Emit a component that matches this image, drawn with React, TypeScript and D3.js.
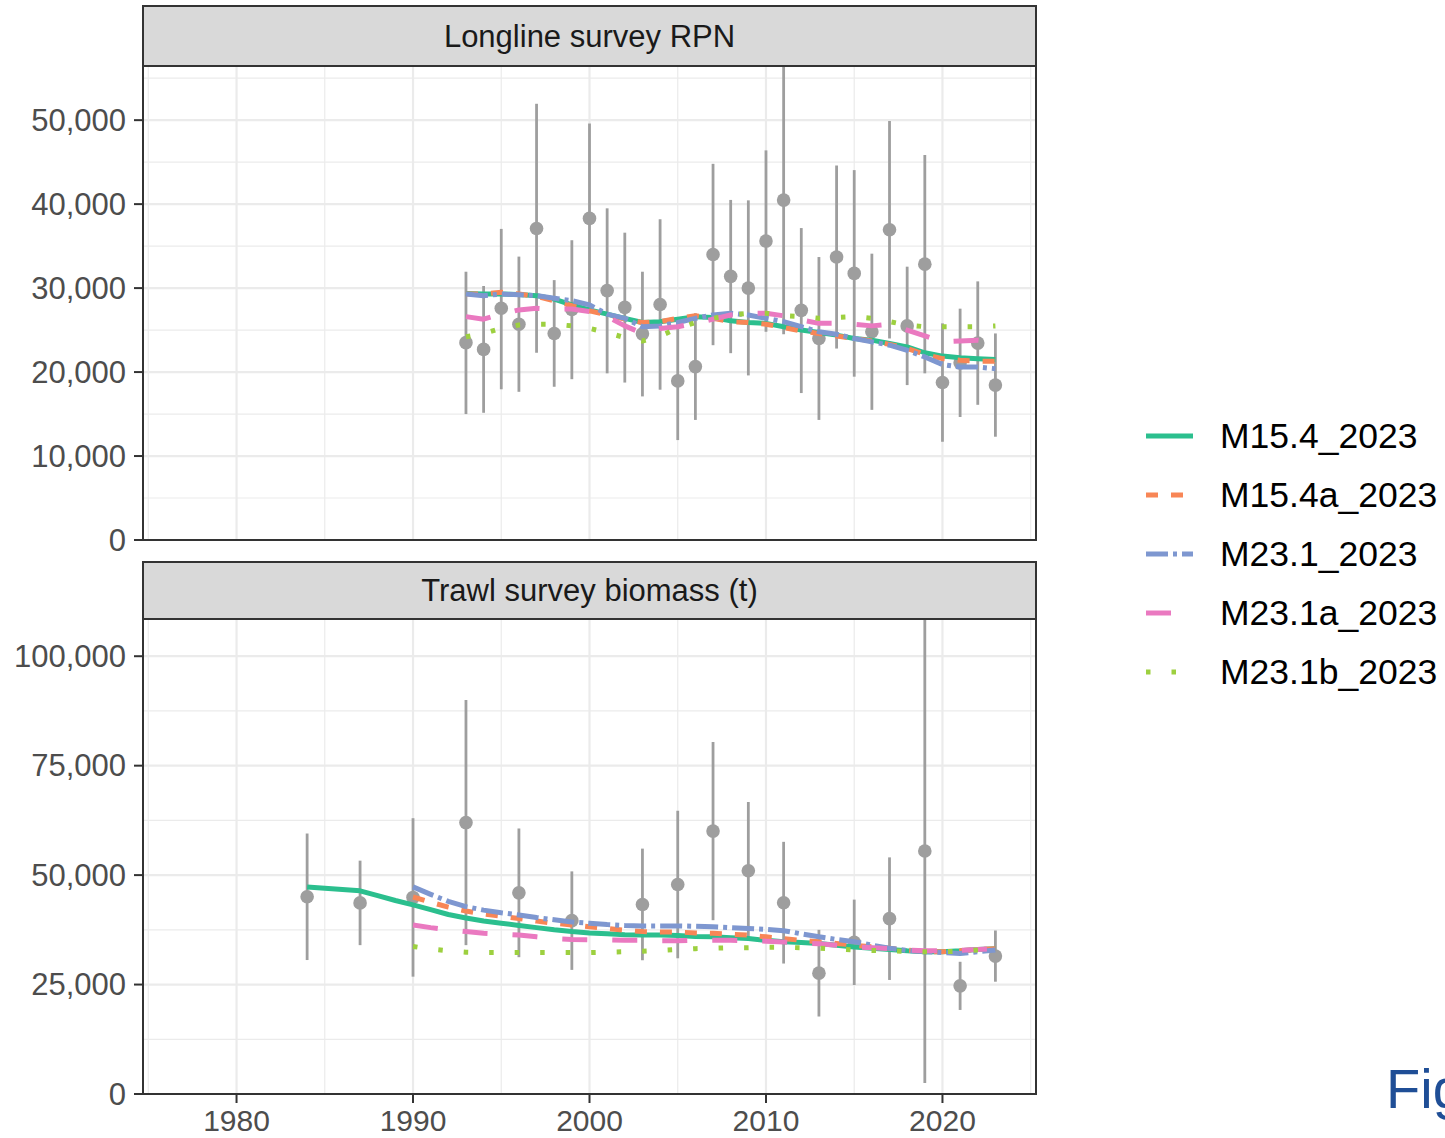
import React from 'react';
import * as d3 from 'd3';

const W = 1445;
const H = 1138;
const FONT = "'Liberation Sans', Arial, Helvetica, sans-serif";

// ---------- Data ----------
const modelNames = ['M15.4_2023', 'M15.4a_2023', 'M23.1_2023', 'M23.1a_2023', 'M23.1b_2023'];

// Longline survey RPN observations
const llYears = [1993, 1994, 1995, 1996, 1997, 1998, 1999, 2000, 2001, 2002, 2003, 2004, 2005, 2006, 2007, 2008, 2009, 2010, 2011, 2012, 2013, 2014, 2015, 2016, 2017, 2018, 2019, 2020, 2021, 2022, 2023];
const llObs = [23500, 22700, 27600, 25700, 37100, 24600, 27450, 38300, 29700, 27700, 24550, 28050, 18950, 20650, 34000, 31400, 30000, 35600, 40480, 27350, 24000, 33700, 31750, 24800, 36950, 25500, 32850, 18750, 21100, 23450, 18450];
const llLo = [15000, 15150, 17950, 17650, 22300, 18250, 19150, 27000, 19850, 18750, 17100, 17900, 11900, 14300, 23200, 22250, 19600, 24800, 24500, 17500, 14300, 22800, 19450, 15500, 24000, 18450, 19850, 11700, 14650, 16100, 12300];
const llHi = [31950, 30250, 37050, 33750, 51950, 30950, 35700, 49600, 39500, 36600, 31950, 38200, 26000, 27000, 44800, 40500, 40450, 46400, 56450, 37150, 33700, 44600, 44050, 34100, 49900, 32550, 45850, 25800, 27550, 30800, 24600];

// Longline model fits (1993-2023)
const llFitM154 = [29350, 29300, 29300, 29250, 29100, 28700, 28000, 27400, 26900, 26400, 25900, 26000, 26300, 26600, 26500, 26100, 25900, 25800, 25400, 25000, 24700, 24400, 24000, 23800, 23400, 23000, 22300, 21900, 21700, 21600, 21500];
const llFitM154a = [29300, 29300, 29500, 29300, 29000, 28500, 27900, 27300, 26800, 26300, 25900, 26000, 26400, 26700, 26400, 26000, 25900, 25700, 25300, 24900, 24600, 24300, 24000, 23700, 23300, 22800, 22100, 21600, 21400, 21300, 21300];
const llFitM231 = [29300, 29100, 29300, 29200, 29100, 28800, 28500, 28000, 26900, 26400, 25400, 25500, 25900, 26400, 26800, 27000, 26800, 26400, 26000, 25400, 24800, 24500, 24000, 23600, 23200, 22600, 21800, 20900, 20600, 20600, 20400];
const llFitM231a = [26600, 26300, 26900, 27400, 27600, 27500, 27500, 27200, 26600, 25500, 24600, 25200, 25400, 25800, 26300, 26800, 27000, 27000, 26700, 26200, 25800, 25800, 25700, 25500, 25700, 25000, 24300, 23600, 23700, 23800, 23600];
const llFitM231b = [24200, 24600, 25200, 25600, 25700, 25700, 25500, 25200, 24700, 24100, 23700, 24300, 25200, 25900, 26400, 26800, 27000, 27000, 26700, 26600, 26400, 26500, 26600, 26400, 26000, 25600, 25400, 25400, 25400, 25400, 25500];

// Trawl survey biomass observations
const twYears = [1984, 1987, 1990, 1993, 1996, 1999, 2003, 2005, 2007, 2009, 2011, 2013, 2015, 2017, 2019, 2021, 2023];
const twObs = [45050, 43650, 44900, 62000, 45950, 39600, 43300, 47850, 60050, 51000, 43700, 27600, 34650, 40050, 55500, 24700, 31500];
const twLo = [30600, 34000, 26800, 34000, 31250, 28350, 30550, 31000, 39700, 35300, 29800, 17700, 24900, 26050, 2500, 19200, 25650];
const twHi = [59500, 53300, 63000, 90000, 60650, 50850, 56050, 64700, 80400, 66700, 57600, 37500, 44400, 54050, 108500, 30200, 37350];

// Trawl model fits
const twFitYearsLong = [1984, 1985, 1986, 1987, 1988, 1989, 1990, 1991, 1992, 1993, 1994, 1995, 1996, 1997, 1998, 1999, 2000, 2001, 2002, 2003, 2004, 2005, 2006, 2007, 2008, 2009, 2010, 2011, 2012, 2013, 2014, 2015, 2016, 2017, 2018, 2019, 2020, 2021, 2022, 2023];
const twFitYearsShort = [1990, 1991, 1992, 1993, 1994, 1995, 1996, 1997, 1998, 1999, 2000, 2001, 2002, 2003, 2004, 2005, 2006, 2007, 2008, 2009, 2010, 2011, 2012, 2013, 2014, 2015, 2016, 2017, 2018, 2019, 2020, 2021, 2022, 2023];
const twFitM154 = [47300, 47000, 46700, 46400, 45300, 44200, 43200, 42100, 41000, 40200, 39500, 39000, 38500, 38000, 37500, 37100, 36800, 36600, 36400, 36300, 36300, 36200, 36000, 35900, 35700, 35500, 35100, 34800, 34600, 34400, 34000, 33600, 33300, 33000, 32700, 32500, 32500, 32700, 33000, 33200];
const twFitM154a = [45000, 43800, 42700, 41800, 41100, 40600, 40100, 39500, 39000, 38600, 38200, 37800, 37400, 37100, 37000, 37000, 36800, 36700, 36500, 36300, 35900, 35500, 35100, 34800, 34400, 34000, 33600, 33300, 32900, 32500, 32500, 32700, 33000, 33200];
const twFitM231 = [47300, 45600, 44000, 42800, 42000, 41400, 40900, 40300, 39800, 39300, 39000, 38700, 38500, 38400, 38400, 38400, 38300, 38200, 38000, 37800, 37600, 37300, 36600, 35900, 35300, 34800, 34000, 33300, 32800, 32500, 32300, 32100, 32500, 32900];
const twFitM231a = [38600, 38000, 37500, 37100, 36700, 36500, 36300, 35900, 35500, 35300, 35200, 35200, 35100, 35100, 35000, 35000, 35100, 35100, 35100, 35000, 34900, 34700, 34500, 34300, 34000, 33600, 33400, 33200, 32900, 32700, 32700, 32800, 33000, 33200];
const twFitM231b = [33700, 33100, 32700, 32400, 32300, 32300, 32300, 32300, 32300, 32300, 32300, 32400, 32500, 32600, 32800, 33000, 33200, 33300, 33400, 33400, 33500, 33500, 33400, 33300, 33100, 32900, 32800, 32700, 32600, 32500, 32500, 32600, 32900, 33100];

// Axis ticks
const xTicks = [1980, 1990, 2000, 2010, 2020];
const xMinor = [1975, 1985, 1995, 2005, 2015, 2025];
const llYTicks = [0, 10000, 20000, 30000, 40000, 50000];
const llYMinor = [5000, 15000, 25000, 35000, 45000, 55000];
const twYTicks = [0, 25000, 50000, 75000, 100000];
const twYMinor = [12500, 37500, 62500, 87500];

// ---------- Styles ----------
const modelColors = ['#2BBF8E', '#F88656', '#7E97D0', '#EA79C0', '#9DD03F'];
const modelDashes = ['none', '12,13', '22,5,4,5', '25,25', '4.5,21'];
const LINE_W = 5;
const OBS_COLOR = '#9E9E9E';
const AXIS_FS = 31;

const PANEL_L = 143;
const PANEL_R = 1036;

type Fit = { years: number[]; values: number[] };
type PanelDef = {
  title: string;
  stripTop: number;
  top: number;
  bottom: number;
  years: number[];
  obs: number[];
  lo: number[];
  hi: number[];
  fits: Fit[];
  yTicks: number[];
  yMinor: number[];
  showX: boolean;
};

const panels: PanelDef[] = [
  {
    title: 'Longline survey RPN',
    stripTop: 6,
    top: 66,
    bottom: 540,
    years: llYears,
    obs: llObs,
    lo: llLo,
    hi: llHi,
    fits: [llFitM154, llFitM154a, llFitM231, llFitM231a, llFitM231b].map((v) => ({ years: llYears, values: v })),
    yTicks: llYTicks,
    yMinor: llYMinor,
    showX: false,
  },
  {
    title: 'Trawl survey biomass (t)',
    stripTop: 562,
    top: 619,
    bottom: 1094,
    years: twYears,
    obs: twObs,
    lo: twLo,
    hi: twHi,
    fits: [
      { years: twFitYearsLong, values: twFitM154 },
      { years: twFitYearsShort, values: twFitM154a },
      { years: twFitYearsShort, values: twFitM231 },
      { years: twFitYearsShort, values: twFitM231a },
      { years: twFitYearsShort, values: twFitM231b },
    ],
    yTicks: twYTicks,
    yMinor: twYMinor,
    showX: true,
  },
];

const x = d3.scaleLinear().domain([1974.7, 2025.3]).range([PANEL_L, PANEL_R]);
const fmt = d3.format(',');

function Panel({ p }: { p: PanelDef }) {
  const y = d3.scaleLinear().domain([0, d3.max(p.hi) as number]).range([p.bottom, p.top]);
  const line = d3
    .line<[number, number]>()
    .x((d) => x(d[0]))
    .y((d) => y(d[1]));
  const clipId = 'clip-' + p.stripTop;
  return (
    <g>
      <defs>
        <clipPath id={clipId}>
          <rect x={PANEL_L} y={p.top} width={PANEL_R - PANEL_L} height={p.bottom - p.top} />
        </clipPath>
      </defs>
      <rect x={PANEL_L} y={p.top} width={PANEL_R - PANEL_L} height={p.bottom - p.top} fill="#fff" />
      {p.yMinor.map((t) => (
        <line key={'ym' + t} x1={PANEL_L} x2={PANEL_R} y1={y(t)} y2={y(t)} stroke="#EBEBEB" strokeWidth={1.2} />
      ))}
      {xMinor.map((t) => (
        <line key={'xm' + t} x1={x(t)} x2={x(t)} y1={p.top} y2={p.bottom} stroke="#EBEBEB" strokeWidth={1.2} />
      ))}
      {p.yTicks.map((t) => (
        <line key={'yM' + t} x1={PANEL_L} x2={PANEL_R} y1={y(t)} y2={y(t)} stroke="#EBEBEB" strokeWidth={2.2} />
      ))}
      {xTicks.map((t) => (
        <line key={'xM' + t} x1={x(t)} x2={x(t)} y1={p.top} y2={p.bottom} stroke="#EBEBEB" strokeWidth={2.2} />
      ))}
      <g clipPath={`url(#${clipId})`}>
        {p.years.map((yr, i) => (
          <line key={'eb' + yr} x1={x(yr)} x2={x(yr)} y1={y(p.lo[i])} y2={y(p.hi[i])} stroke={OBS_COLOR} strokeWidth={2.8} />
        ))}
        {p.years.map((yr, i) => (
          <circle key={'pt' + yr} cx={x(yr)} cy={y(p.obs[i])} r={6.8} fill={OBS_COLOR} />
        ))}
        {p.fits.map((f, k) => (
          <path
            key={'fit' + k}
            d={line(f.years.map((yr, i) => [yr, f.values[i]] as [number, number])) || ''}
            fill="none"
            stroke={modelColors[k]}
            strokeWidth={LINE_W}
            strokeDasharray={modelDashes[k]}
            strokeLinejoin="round"
          />
        ))}
      </g>
      <rect x={PANEL_L} y={p.top} width={PANEL_R - PANEL_L} height={p.bottom - p.top} fill="none" stroke="#333333" strokeWidth={2} />
      <rect x={PANEL_L} y={p.stripTop} width={PANEL_R - PANEL_L} height={p.top - p.stripTop} fill="#D9D9D9" stroke="#333333" strokeWidth={2} />
      <text
        x={(PANEL_L + PANEL_R) / 2}
        y={(p.stripTop + p.top) / 2}
        textAnchor="middle"
        dominantBaseline="central"
        fontFamily={FONT}
        fontSize={AXIS_FS}
        fill="#1A1A1A"
      >
        {p.title}
      </text>
      {p.yTicks.map((t) => (
        <g key={'yt' + t}>
          <line x1={PANEL_L - 9} x2={PANEL_L} y1={y(t)} y2={y(t)} stroke="#333333" strokeWidth={2} />
          <text
            x={PANEL_L - 17}
            y={y(t)}
            textAnchor="end"
            dominantBaseline="central"
            fontFamily={FONT}
            fontSize={AXIS_FS}
            fill="#4D4D4D"
          >
            {fmt(t)}
          </text>
        </g>
      ))}
      {p.showX &&
        xTicks.map((t) => (
          <g key={'xt' + t}>
            <line x1={x(t)} x2={x(t)} y1={p.bottom} y2={p.bottom + 9} stroke="#333333" strokeWidth={2} />
            <text
              x={x(t)}
              y={p.bottom + 26}
              textAnchor="middle"
              dominantBaseline="central"
              fontFamily={FONT}
              fontSize={30}
              fill="#4D4D4D"
            >
              {t}
            </text>
          </g>
        ))}
    </g>
  );
}

function Legend() {
  const x0 = 1146;
  const x1 = 1193;
  const yStart = 436;
  const step = 59;
  return (
    <g>
      {modelNames.map((name, i) => (
        <g key={name}>
          <line
            x1={x0}
            x2={x1}
            y1={yStart + i * step}
            y2={yStart + i * step}
            stroke={modelColors[i]}
            strokeWidth={LINE_W}
            strokeDasharray={modelDashes[i]}
          />
          <text
            x={1220}
            y={yStart + i * step}
            dominantBaseline="central"
            fontFamily={FONT}
            fontSize={35.5}
            fill="#000"
          >
            {name}
          </text>
        </g>
      ))}
    </g>
  );
}

export default function App() {
  return (
    <svg
      width={W}
      height={H}
      viewBox={`0 0 ${W} ${H}`}
      style={{ position: 'absolute', left: 0, top: 0, background: '#fff', overflow: 'hidden' }}
    >
      <rect x={0} y={0} width={W} height={H} fill="#fff" />
      {panels.map((p) => (
        <Panel key={p.title} p={p} />
      ))}
      <Legend />
      <text x={1386} y={1108} fontFamily={FONT} fontSize={56} fill="#1F4E96">
        Fig
      </text>
    </svg>
  );
}
